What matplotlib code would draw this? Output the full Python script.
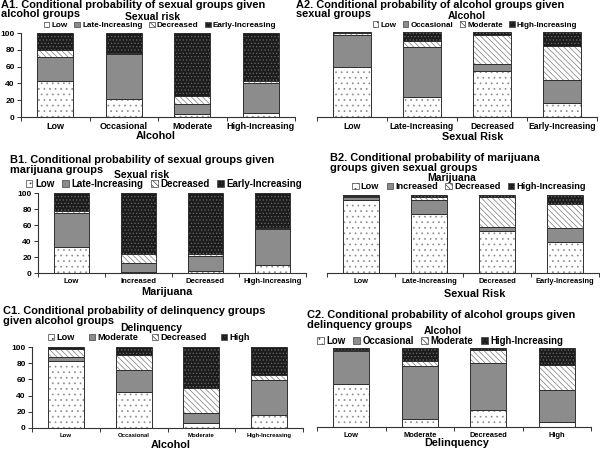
import numpy as np
import matplotlib
matplotlib.use('Agg')
import matplotlib.pyplot as plt
from matplotlib.patches import Patch

plt.rcParams['font.family'] = ['Liberation Sans', 'DejaVu Sans']
plt.rcParams['font.weight'] = 'bold'
plt.rcParams['hatch.linewidth'] = 0.5

# ---- data (percent, one list per stacked segment, bottom to top) ----
alc_cats = ['Low', 'Occasional', 'Moderate', 'High-Increasing']
sex_cats = ['Low', 'Late-Increasing', 'Decreased', 'Early-Increasing']
mar_cats = ['Low', 'Increased', 'Decreased', 'High-Increasing']
del_cats = ['Low', 'Moderate', 'Decreased', 'High']

sex_segs = ['Low', 'Late-Increasing', 'Decreased', 'Early-Increasing']
alc_segs = ['Low', 'Occasional', 'Moderate', 'High-Increasing']
mar_segs = ['Low', 'Increased', 'Decreased', 'High-Increasing']
del_segs = ['Low', 'Moderate', 'Decreased', 'High']

# A1: sexual groups given alcohol groups
a1_vals = [[43, 22, 3, 5], [28, 53, 13, 36], [9, 1, 9, 2], [20, 24, 75, 57]]
# A2: alcohol groups given sexual groups
a2_vals = [[59, 24, 54, 17], [38, 58, 8, 26], [2, 7, 34, 40], [1, 11, 4, 17]]
# B1: sexual groups given marijuana groups
b1_vals = [[33, 1, 2, 10], [42, 12, 19, 45], [3, 11, 3, 1], [22, 76, 76, 44]]
# B2: marijuana groups given sexual groups
b2_vals = [[93, 76, 54, 40], [5, 17, 5, 18], [1, 4, 38, 30], [1, 3, 3, 12]]
# C1: delinquency groups given alcohol groups
c1_vals = [[83, 44, 6, 16], [5, 27, 12, 43], [10, 19, 32, 6], [2, 10, 50, 35]]
# C2: alcohol groups given delinquency groups
c2_vals = [[54, 10, 21, 6], [42, 67, 60, 41], [1, 6, 16, 32], [3, 17, 3, 21]]

# face colour, hatch, hatch colour for the four stacked segments
styles = [('white', '...', '#8a8a8a'),
          ('#8c8c8c', '', '#8c8c8c'),
          ('white', '\\' * 6, '#7a7a7a'),
          ('#1c1c1c', '.....', '#6a6a6a')]

fig = plt.figure(figsize=(6, 4.5), dpi=100)


def fx(x):
    return x / 600


def fy(y):
    return 1 - y / 450


def panel(box, cats, segs, vals, title, tpos, subtitle, spos, lpos, lsize,
          xlabel, xpos, tsize, yaxis, colsp=0.8):
    x0, y0, x1, y1 = box
    ax = fig.add_axes([fx(x0), fy(y1), (x1 - x0) / 600, (y1 - y0) / 450])
    x = np.arange(len(cats))
    bottom = np.zeros(len(cats))
    handles = []
    for (face, hatch, hc), name, v in zip(styles, segs, vals):
        ax.bar(x, v, 0.53, bottom=bottom, color=face, edgecolor=hc,
               hatch=hatch, linewidth=0)
        ax.bar(x, v, 0.53, bottom=bottom, fill=False, edgecolor='#303030',
               linewidth=0.7)
        bottom = bottom + np.array(v)
        handles.append(Patch(facecolor=face, edgecolor='#404040', hatch=hatch,
                             linewidth=0.5, label=name))

    ax.set_xlim(-0.5, len(cats) - 0.5)
    ax.set_ylim(0, 100)
    ax.set_xticks(x)
    ax.set_xticklabels(cats, fontsize=tsize)
    ax.tick_params(axis='x', length=0, pad=3.5)
    ax.set_xticks(np.arange(-0.5, len(cats), 1), minor=True)
    ax.tick_params(axis='x', which='minor', length=3, width=0.7,
                   color='#333333')
    for s in ['top', 'right']:
        ax.spines[s].set_visible(False)
    ax.spines['bottom'].set_color('#333333')
    ax.spines['bottom'].set_linewidth(0.8)
    if yaxis:
        ax.set_yticks(range(0, 101, 20))
        ax.tick_params(axis='y', labelsize=6, length=3, width=0.7,
                       pad=1.5, color='#333333')
        ax.spines['left'].set_color('#333333')
        ax.spines['left'].set_linewidth(0.8)
    else:
        ax.spines['left'].set_visible(False)
        ax.set_yticks([])

    # two-line panel title, one text per line
    for i, line in enumerate(title):
        fig.text(fx(tpos[0]), fy(tpos[1] + 9.6 * i), line, ha='left',
                 va='center', fontsize=7.9)
    fig.text(fx(spos[0]), fy(spos[1]), subtitle, ha='center', va='center',
             fontsize=7.5)
    fig.legend(handles=handles, loc='center',
               bbox_to_anchor=(fx(lpos[0]), fy(lpos[1])), ncol=4,
               frameon=False, fontsize=lsize, handlelength=0.7,
               handleheight=0.7, handletextpad=0.25, columnspacing=colsp,
               borderpad=0, borderaxespad=0)
    fig.text(fx(xpos[0]), fy(xpos[1]), xlabel, ha='center', va='center',
             fontsize=7.8)
    return ax


panel((21, 33, 295, 117), alc_cats, sex_segs, a1_vals,
      ['A1. Conditional probability of sexual groups given', 'alcohol groups'],
      (1, 4.5), 'Sexual risk', (153, 16.5), (160, 25.5), 5.9,
      'Alcohol', (156, 136), 6.5, True)

panel((317, 32, 597, 117), sex_cats, alc_segs, a2_vals,
      ['A2. Conditional probability of alcohol groups given', 'sexual groups'],
      (296, 4.5), 'Alcohol', (467, 16), (475, 25), 5.8,
      'Sexual Risk', (473, 137), 6.2, False)

panel((38, 193, 306, 273), mar_cats, sex_segs, b1_vals,
      ['B1. Conditional probability of sexual groups given',
       'marijuana groups'],
      (10, 160), 'Sexual risk', (142, 174.5), (164, 184.2), 7.0,
      'Marijuana', (167, 292), 5.6, True)

panel((327, 195, 599, 273), sex_cats, mar_segs, b2_vals,
      ['B2. Conditional probability of marijuana',
       'groups given sexual groups'],
      (330, 158), 'Marijuana', (452, 178), (469, 186.5), 6.6,
      'Sexual Risk', (475, 294), 5.4, False)

panel((32, 347, 303, 428), alc_cats, del_segs, c1_vals,
      ['C1. Conditional probability of delinquency groups',
       'given alcohol groups'],
      (3, 311), 'Delinquency', (151, 328), (149, 337.5), 6.6,
      'Alcohol', (171, 444.5), 4.3, True, colsp=1.5)

panel((317, 348, 591, 427), del_cats, alc_segs, c2_vals,
      ['C2. Conditional probability of alcohol groups given',
       'delinquency groups'],
      (307, 315), 'Alcohol', (443, 331), (440, 340.5), 6.9,
      'Delinquency', (457, 443), 5.4, False)

fig.savefig('out.png', dpi=100)
